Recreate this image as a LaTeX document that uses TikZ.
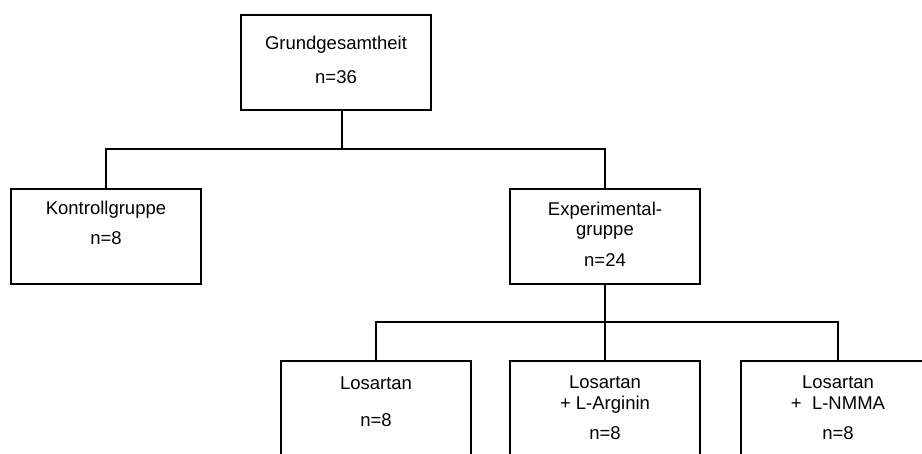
\documentclass[tikz,border=0pt]{standalone}
\usepackage{fontspec}
\setmainfont{Liberation Sans}
\usepackage{tikz}
\usetikzlibrary{calc}

\begin{document}
\begin{tikzpicture}[x=1pt, y=-1pt,
  box/.style={draw, rectangle, line width=2pt, minimum width=190pt, minimum height=95pt, inner sep=0pt},
  txt/.style={anchor=base, align=center, inner sep=0pt, font=\fontsize{18.5}{20.5}\selectfont},
  conn/.style={line width=2pt}]
  \useasboundingbox (0,0) rectangle (922,453);

  % Grundgesamtheit
  \node[box] (gesamt) at (336,62.5) {};
  \node[txt] (gesamt-t) at ([yshift=-69pt]gesamt.north) {Grundgesamtheit\\[13pt]n=36};

  % Gruppen
  \node[box] (kontroll) at (106,236) {};
  \node[txt] (kontroll-t) at ([yshift=-57pt]kontroll.north) {Kontrollgruppe\\[9.5pt]n=8};
  \node[box] (experim) at (605,236) {};
  \node[txt] (experim-t) at ([yshift=-79pt]experim.north) {Experimental-\\gruppe\\[10.5pt]n=24};

  % Untergruppen (unten abgeschnitten)
  \node[box, minimum height=150pt] (losartan) at (376,436) {};
  \node[txt] (losartan-t) at ([yshift=-66pt]losartan.north) {Losartan\\[16.5pt]n=8};
  \node[box, minimum height=150pt] (arginin) at (605,436) {};
  \node[txt] (arginin-t) at ([yshift=-79pt]arginin.north) {Losartan\\+ L-Arginin\\[9.5pt]n=8};
  \node[box, minimum height=150pt, minimum width=194pt] (nmma) at (838,436) {};
  \node[txt] (nmma-t) at ([yshift=-79pt]nmma.north) {Losartan\\+~~L-NMMA\\[9.5pt]n=8};

  % Verbindungen
  \coordinate (bus1) at (0,149);
  \coordinate (bus2) at (0,322);
  \draw[conn] ([xshift=6pt]gesamt.south) -- ([xshift=6pt]gesamt.south |- bus1);
  \draw[conn] (kontroll.north) |- (experim.north |- bus1) -- (experim.north);
  \draw[conn] (experim.south) -- (experim.south |- bus2);
  \draw[conn] (losartan.north) |- (nmma.north |- bus2) -- (nmma.north);
  \draw[conn] (arginin.north) -- (arginin.north |- bus2);
\end{tikzpicture}
\end{document}
